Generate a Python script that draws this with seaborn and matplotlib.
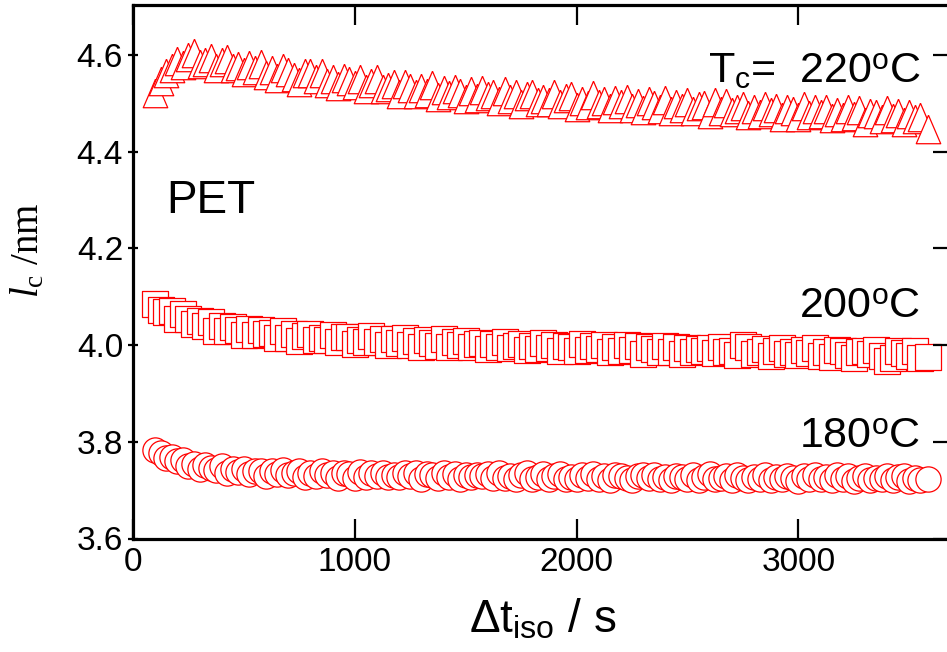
import matplotlib
matplotlib.use("Agg")
import matplotlib.pyplot as plt
import seaborn as sns
import pandas as pd
from matplotlib.ticker import FixedLocator, FormatStrFormatter

# ---------------- data ----------------
t_iso = [100, 125, 150, 175, 200, 225, 250, 275, 300, 325,
         350, 375, 400, 425, 450, 475, 500, 525, 550, 575,
         600, 625, 650, 675, 700, 725, 750, 775, 800, 825,
         850, 875, 900, 925, 950, 975, 1000, 1025, 1050, 1075,
         1100, 1125, 1150, 1175, 1200, 1225, 1250, 1275, 1300, 1325,
         1350, 1375, 1400, 1425, 1450, 1475, 1500, 1525, 1550, 1575,
         1600, 1625, 1650, 1675, 1700, 1725, 1750, 1775, 1800, 1825,
         1850, 1875, 1900, 1925, 1950, 1975, 2000, 2025, 2050, 2075,
         2100, 2125, 2150, 2175, 2200, 2225, 2250, 2275, 2300, 2325,
         2350, 2375, 2400, 2425, 2450, 2475, 2500, 2525, 2550, 2575,
         2600, 2625, 2650, 2675, 2700, 2725, 2750, 2775, 2800, 2825,
         2850, 2875, 2900, 2925, 2950, 2975, 3000, 3025, 3050, 3075,
         3100, 3125, 3150, 3175, 3200, 3225, 3250, 3275, 3300, 3325,
         3350, 3375, 3400, 3425, 3450, 3475, 3500, 3525, 3550, 3585]

lc_220 = [4.522, 4.545, 4.562, 4.572, 4.587, 4.578, 4.595, 4.603, 4.581, 4.586,
          4.594, 4.572, 4.586, 4.591, 4.572, 4.577, 4.565, 4.579, 4.568, 4.582,
          4.559, 4.568, 4.553, 4.572, 4.565, 4.555, 4.544, 4.562, 4.563, 4.550,
          4.563, 4.542, 4.549, 4.536, 4.553, 4.546, 4.537, 4.551, 4.530, 4.541,
          4.550, 4.529, 4.533, 4.539, 4.519, 4.540, 4.531, 4.520, 4.531, 4.522,
          4.537, 4.513, 4.528, 4.517, 4.529, 4.521, 4.508, 4.526, 4.511, 4.528,
          4.514, 4.519, 4.505, 4.525, 4.508, 4.519, 4.498, 4.514, 4.520, 4.502,
          4.509, 4.503, 4.519, 4.498, 4.511, 4.514, 4.493, 4.505, 4.497, 4.516,
          4.498, 4.505, 4.490, 4.507, 4.498, 4.509, 4.491, 4.501, 4.485, 4.505,
          4.497, 4.489, 4.507, 4.484, 4.499, 4.490, 4.502, 4.483, 4.494, 4.497,
          4.478, 4.503, 4.484, 4.500, 4.481, 4.488, 4.495, 4.476, 4.489, 4.478,
          4.495, 4.481, 4.491, 4.471, 4.488, 4.484, 4.472, 4.494, 4.475, 4.487,
          4.478, 4.489, 4.470, 4.482, 4.471, 4.488, 4.474, 4.485, 4.462, 4.480,
          4.477, 4.467, 4.485, 4.469, 4.480, 4.462, 4.477, 4.468, 4.472, 4.446]

lc_200 = [4.084, 4.073, 4.069, 4.071, 4.054, 4.064, 4.054, 4.043, 4.050, 4.040,
          4.048, 4.030, 4.039, 4.030, 4.037, 4.031, 4.020, 4.033, 4.021, 4.032,
          4.022, 4.025, 4.015, 4.028, 4.015, 4.023, 4.008, 4.019, 4.023, 4.010,
          4.015, 4.010, 4.021, 4.006, 4.016, 4.017, 4.003, 4.011, 4.006, 4.019,
          4.006, 4.012, 4.000, 4.013, 4.005, 4.014, 4.000, 4.008, 3.996, 4.010,
          4.005, 3.999, 4.012, 3.996, 4.006, 4.001, 4.008, 3.995, 4.002, 4.005,
          3.991, 4.003, 3.995, 4.006, 3.994, 3.998, 4.003, 3.990, 3.999, 3.991,
          4.004, 3.993, 4.001, 3.987, 3.998, 3.995, 3.988, 4.002, 3.989, 3.998,
          3.992, 4.000, 3.986, 3.995, 3.988, 4.000, 3.990, 3.997, 3.982, 3.995,
          3.992, 3.985, 3.998, 3.986, 3.995, 3.982, 3.993, 3.986, 3.992, 3.988,
          3.994, 3.984, 3.995, 3.985, 3.988, 3.980, 4.000, 3.996, 3.981, 3.985,
          3.992, 3.978, 3.988, 3.993, 3.981, 3.986, 3.979, 3.989, 3.983, 3.993,
          3.978, 3.986, 3.975, 3.990, 3.987, 3.980, 3.974, 3.986, 3.988, 3.981,
          3.990, 3.977, 3.966, 3.974, 3.987, 3.983, 3.977, 3.988, 3.974, 3.976]

lc_180 = [3.783, 3.777, 3.767, 3.768, 3.760, 3.762, 3.750, 3.753, 3.743, 3.752,
          3.746, 3.741, 3.749, 3.736, 3.743, 3.738, 3.743, 3.734, 3.739, 3.740,
          3.730, 3.739, 3.733, 3.741, 3.731, 3.735, 3.739, 3.728, 3.735, 3.729,
          3.739, 3.731, 3.736, 3.726, 3.735, 3.733, 3.726, 3.738, 3.728, 3.735,
          3.730, 3.736, 3.727, 3.732, 3.727, 3.736, 3.729, 3.735, 3.723, 3.733,
          3.732, 3.726, 3.736, 3.727, 3.733, 3.724, 3.732, 3.727, 3.732, 3.729,
          3.733, 3.726, 3.735, 3.726, 3.729, 3.723, 3.731, 3.735, 3.724, 3.727,
          3.733, 3.722, 3.730, 3.733, 3.724, 3.728, 3.722, 3.731, 3.726, 3.734,
          3.723, 3.729, 3.721, 3.732, 3.730, 3.725, 3.720, 3.729, 3.731, 3.725,
          3.732, 3.722, 3.727, 3.721, 3.730, 3.728, 3.723, 3.732, 3.721, 3.728,
          3.733, 3.723, 3.725, 3.730, 3.720, 3.731, 3.726, 3.721, 3.728, 3.723,
          3.732, 3.720, 3.728, 3.723, 3.730, 3.726, 3.719, 3.729, 3.722, 3.731,
          3.724, 3.727, 3.720, 3.731, 3.722, 3.729, 3.718, 3.726, 3.729, 3.720,
          3.725, 3.722, 3.730, 3.720, 3.727, 3.729, 3.718, 3.725, 3.721, 3.722]

x_ticks = [0, 1000, 2000, 3000]
y_ticks = [3.6, 3.8, 4.0, 4.2, 4.4, 4.6]
series_labels = [r"T$_\mathregular{c}$=  220$^\mathregular{o}$C",
                 r"200$^\mathregular{o}$C",
                 r"180$^\mathregular{o}$C"]
sample_label = "PET"

# ---------------- style ----------------
sns.set_theme(style="ticks")
plt.rcParams["font.family"] = ["Liberation Sans", "DejaVu Sans"]
plt.rcParams["mathtext.fontset"] = "custom"
plt.rcParams["mathtext.rm"] = "Liberation Serif"
plt.rcParams["mathtext.it"] = "Liberation Serif:italic"
plt.rcParams["mathtext.bf"] = "Liberation Serif:bold"

fig = plt.figure(figsize=(9.47, 6.52), dpi=100)
fig.patch.set_facecolor("white")
ax = fig.add_axes([133 / 947, 1 - 538.5 / 652, 1 - 133 / 947, (538.5 - 5) / 652])
ax.set_facecolor("white")

tri = [(0, 1), (-0.86, -1), (0.86, -1), (0, 1)]
red = "#ff0000"
df220 = pd.DataFrame({"t": t_iso, "lc": lc_220})
df200 = pd.DataFrame({"t": t_iso, "lc": lc_200})
df180 = pd.DataFrame({"t": t_iso, "lc": lc_180})

sns.scatterplot(data=df180, x="t", y="lc", marker="o", s=330,
                facecolor="white", edgecolor=red, linewidth=0.9, ax=ax, zorder=3)
sns.scatterplot(data=df200, x="t", y="lc", marker="s", s=350,
                facecolor="white", edgecolor=red, linewidth=0.9, ax=ax, zorder=3)
sns.scatterplot(data=df220, x="t", y="lc", marker=tri, s=420,
                facecolor="white", edgecolor=red, linewidth=0.9, ax=ax, zorder=3)

ax.set_xlim(0, 3670)
ax.set_ylim(3.6, 4.703)
ax.xaxis.set_major_locator(FixedLocator(x_ticks))
ax.yaxis.set_major_locator(FixedLocator(y_ticks))
ax.yaxis.set_major_formatter(FormatStrFormatter("%.1f"))
ax.set_xlabel("")
ax.set_ylabel("")

for side in ["left", "bottom", "top"]:
    ax.spines[side].set_visible(True)
    ax.spines[side].set_linewidth(2.3)
    ax.spines[side].set_color("black")
ax.spines["right"].set_visible(False)

ax.tick_params(axis="x", which="major", direction="in", length=14.5, width=1.6,
               top=True, bottom=True, labelsize=24, pad=6, colors="black")
ax.tick_params(axis="y", which="major", direction="inout", length=7, width=1.6,
               left=True, right=False, labelsize=24, pad=3.7, colors="black")

# right-hand ticks (shorter, inward)
ax2 = ax.twinx()
ax2.set_ylim(ax.get_ylim())
ax2.yaxis.set_major_locator(FixedLocator(y_ticks))
ax2.tick_params(axis="y", direction="in", length=10, width=1.6,
                labelright=False, right=True, colors="black")
for s in ax2.spines.values():
    s.set_visible(False)
ax2.set_ylabel("")

# annotations
ax.text(3550, 4.542, series_labels[0], ha="right", va="baseline", fontsize=31, color="black")
ax.text(3550, 4.056, series_labels[1], ha="right", va="baseline", fontsize=31, color="black")
ax.text(3550, 3.787, series_labels[2], ha="right", va="baseline", fontsize=31, color="black")
ax.text(150, 4.273, sample_label, ha="left", va="baseline", fontsize=33, color="black")

# axis titles
fig.text(543 / 947, 1 - 633 / 652, r"Δt$_\mathregular{iso}$ / s", ha="center",
         va="baseline", fontsize=33, color="black")
fig.text(28 / 947, 1 - 250 / 652, r"$\mathit{l}_\mathrm{c}$ /nm", rotation=90,
         ha="center", va="center", fontsize=28, color="black",
         family=["Liberation Serif", "DejaVu Serif"])

fig.savefig("out.png", dpi=100, facecolor="white")
